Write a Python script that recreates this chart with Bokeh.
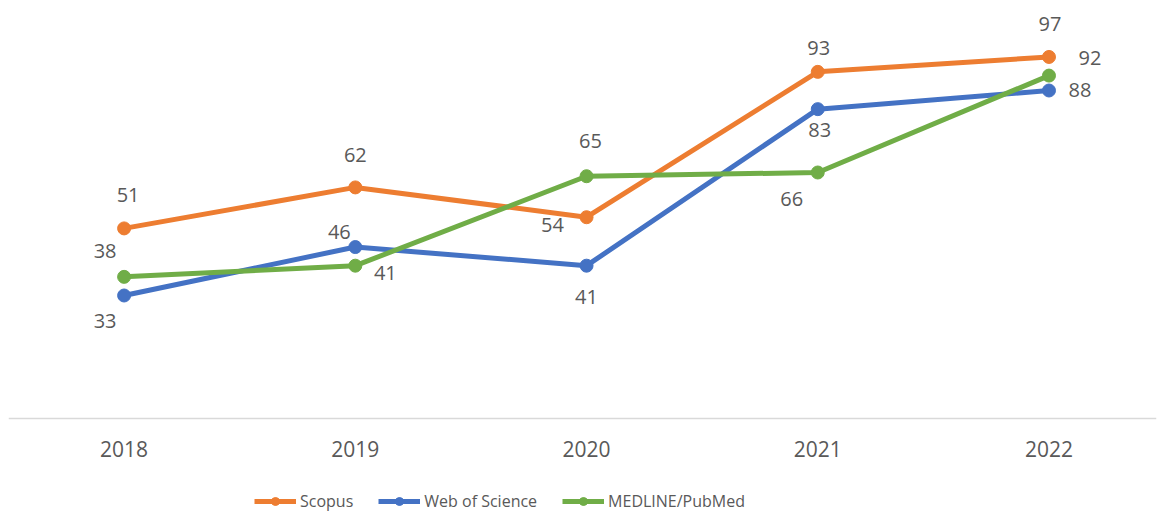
from bokeh.plotting import figure
from bokeh.models import Range1d, Legend, LegendItem, Span
from bokeh.core.properties import value
from bokeh.embed import file_html
from bokeh.resources import INLINE

years = ["2018", "2019", "2020", "2021", "2022"]
scopus = [51, 62, 54, 93, 97]
wos = [33, 46, 41, 83, 88]
medline = [38, 41, 65, 66, 92]
series_names = ["Scopus", "Web of Science", "MEDLINE/PubMed"]

colors = ["#ED7D31", "#4472C4", "#70AD47"]
# label offsets (screen px) per series/point
label_dx = [[4, 0, -34, 1, 1], [-19, -16, 0, 2, 31], [-19, 30, 4, -26, 41]]
label_dy = [[-33, -32, 8, -24, -33], [26, -15, 31, 21, 0], [-26, 7, -35, 27, -18]]

FONT = "Open Sans"
TXT = "#595959"

# frame covers the whole plot incl. the category-label and legend strip below y=0
p = figure(frame_width=1148, frame_height=504, output_backend="svg", toolbar_location=None,
           x_range=Range1d(-0.5, 4.465), y_range=Range1d(-25.22, 110),
           min_border_left=8, min_border_right=8, min_border_top=8, min_border_bottom=0)
p.outline_line_color = None
p.grid.visible = False
p.xaxis.visible = False
p.yaxis.visible = False
p.background_fill_color = "white"
p.border_fill_color = "white"

xs = list(range(len(years)))

# category axis line at y = 0 and category labels
p.add_layout(Span(location=0, dimension="width", line_color="#D9D9D9", line_width=1.5))
p.text(xs, [0] * len(xs), text=years, y_offset=31, text_align="center",
       text_baseline="middle", text_font=value(FONT), text_font_size="21px", text_color=TXT)

items = []
for k, vals in enumerate([scopus, wos, medline]):
    ln = p.line(xs, vals, line_color=colors[k], line_width=5)
    sc = p.scatter(xs, vals, size=13, fill_color=colors[k], line_color=colors[k])
    items.append(LegendItem(label=series_names[k], renderers=[ln, sc]))

for k, vals in enumerate([scopus, wos, medline]):
    p.text(xs, vals, text=[str(v) for v in vals], x_offset=label_dx[k], y_offset=label_dy[k],
           text_align="center", text_baseline="middle", text_font=value(FONT),
           text_font_size="20px", text_color=TXT)

legend = Legend(items=items, orientation="horizontal", location=(246, 0))
legend.border_line_color = None
legend.background_fill_alpha = 0
legend.label_text_font = FONT
legend.label_text_font_size = "16px"
legend.label_text_color = TXT
legend.glyph_width = 42
legend.glyph_height = 20
legend.label_height = 20
legend.label_standoff = 4
legend.spacing = 25
legend.padding = 0
legend.margin = 0
p.add_layout(legend, "center")

open("out.html", "w").write(file_html(p, INLINE))
